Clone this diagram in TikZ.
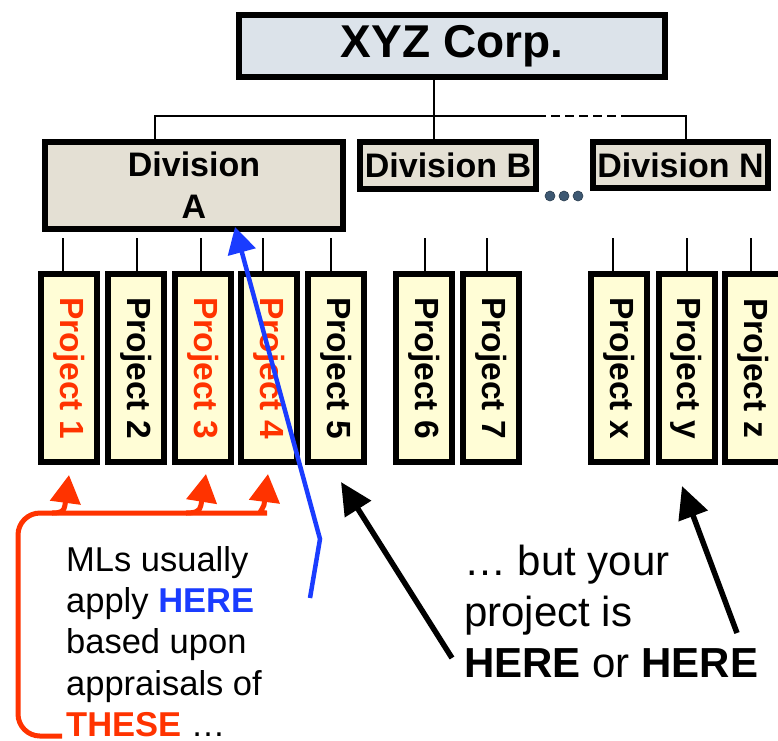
\documentclass[tikz,border=0pt]{standalone}
\usepackage{fontspec}
\setmainfont{Liberation Sans}
\usetikzlibrary{arrows.meta}
\definecolor{xyzfill}{HTML}{DCE3EA}
\definecolor{divfill}{HTML}{E4E0D4}
\definecolor{projfill}{HTML}{FFFDD6}
\definecolor{myred}{HTML}{FF3300}
\definecolor{myblue}{HTML}{1A3CFF}
\definecolor{dotcol}{HTML}{3D5872}
\begin{document}
\begin{tikzpicture}[x=1pt,y=-1pt,
  box/.style={draw=black, line width=6pt, inner sep=0pt, align=center,
    font=\bfseries\fontsize{34}{42}\selectfont},
  xyzbox/.style={box, fill=xyzfill, font=\bfseries\fontsize{46}{50}\selectfont},
  divbox/.style={box, fill=divfill},
  projbox/.style={box, fill=projfill, minimum width=56pt, minimum height=188pt,
    font=\bfseries\fontsize{33.5}{40}\selectfont},
  conn/.style={line width=1.5pt},
  dotnode/.style={circle, fill=dotcol, draw=dotcol!70!black, line width=0.6pt,
    minimum size=10pt, inner sep=0pt},
  redarr/.style={draw=myred, line width=5pt, -{Triangle[length=28pt,width=30pt]}},
  bluarr/.style={draw=myblue, line width=4.5pt, -{Triangle[length=26pt,width=28pt]}},
  blkarr/.style={draw=black, line width=5.5pt, -{Triangle[length=32pt,width=30pt]}},
  txt/.style={anchor=north west, inner sep=0pt, align=left}
]
\useasboundingbox (0,0) rectangle (778,740);

% top and divisions
\node[xyzbox, minimum width=426pt, minimum height=62pt] (xyz) at (452,46) {XYZ Corp.};
\node[divbox, minimum width=298pt, minimum height=87pt] (divA) at (194,185.5) {Division\\A};
\node[divbox, minimum width=176pt, minimum height=47pt] (divB) at (448,165.5) {Division B};
\node[divbox, minimum width=175pt, minimum height=46pt] (divN) at (680.5,165) {Division N};

\coordinate (hub) at (434,116);
\coordinate (hl) at (155,116);
\coordinate (ds) at (537,116);
\coordinate (de) at (630,116);
\coordinate (hr) at (686,116);
\draw[conn] (hub |- xyz.south) -- (hub |- divB.north);
\draw[conn] (hl |- divA.north) -- (hl) -- (ds);
\draw[conn, dash pattern=on 9pt off 5pt] (ds) -- (de);
\draw[conn] (de) -- (hr) -- (hr |- divN.north);

\node[dotnode] (dot1) at (550,196) {};
\node[dotnode] (dot2) at (564,196) {};
\node[dotnode] (dot3) at (578,196) {};

% projects
\node[projbox, text=myred] (p1) at (69,368) {\rotatebox{-90}{Project 1}};
\node[projbox] (p2) at (136,368) {\rotatebox{-90}{Project 2}};
\node[projbox, text=myred] (p3) at (203,368) {\rotatebox{-90}{Project 3}};
\node[projbox, text=myred] (p4) at (269,368) {\rotatebox{-90}{Project 4}};
\node[projbox] (p5) at (336,368) {\rotatebox{-90}{Project 5}};
\node[projbox] (p6) at (424,368) {\rotatebox{-90}{Project 6}};
\node[projbox] (p7) at (491,368) {\rotatebox{-90}{Project 7}};
\node[projbox] (px) at (619,368) {\rotatebox{-90}{Project x}};
\node[projbox] (py) at (686.5,368) {\rotatebox{-90}{Project y}};
\node[projbox] (pz) at (753,368) {\rotatebox{-90}{Project z}};

\coordinate (t1) at (63,238);
\coordinate (t2) at (137,238);
\coordinate (t3) at (201,238);
\coordinate (t4) at (263,238);
\coordinate (t5) at (331,238);
\coordinate (t6) at (425,238);
\coordinate (t7) at (487,238);
\coordinate (tx) at (613,238);
\coordinate (ty) at (687,238);
\coordinate (tz) at (751,238);
\draw[conn] (t1) -- (t1 |- p1.north);
\draw[conn] (t2) -- (t2 |- p2.north);
\draw[conn] (t3) -- (t3 |- p3.north);
\draw[conn] (t4) -- (t4 |- p4.north);
\draw[conn] (t5) -- (t5 |- p5.north);
\draw[conn] (t6) -- (t6 |- p6.north);
\draw[conn] (t7) -- (t7 |- p7.north);
\draw[conn] (tx) -- (tx |- px.north);
\draw[conn] (ty) -- (ty |- py.north);
\draw[conn] (tz) -- (tz |- pz.north);

% texts
\node[txt, font=\fontsize{34.5}{41.3}\selectfont] (ml) at (66,546)
  {MLs usually\\apply \textcolor{myblue}{\bfseries HERE}\\based upon\\appraisals of\\\textcolor{myred}{\bfseries THESE} …};
\node[txt, font=\fontsize{42}{51}\selectfont] (yp) at (464,545)
  {… but your\\project is\\\textbf{HERE} or \textbf{HERE}};

% red arrows
\draw[redarr] (62,736) [rounded corners=22pt] -| (18,513) -- (245,513) [sharp corners]
  .. controls (256,513) and (262,511) .. (264,505) -- (268,474);
\draw[redarr] (52,513) .. controls (62,513) and (64,511) .. (65,505) -- (69,475);
\draw[redarr] (186,513) .. controls (196,513) and (200,511) .. (201,505) -- (206,474);

% blue arrow
\coordinate (b0) at (310,598);
\coordinate (b1) at (320,539);
\coordinate (btip) at (235,227);
\draw[bluarr] (b0) -- (b1) -- (btip);

% black arrows
\coordinate (k1s) at (452,658);
\coordinate (k1e) at (341,482);
\coordinate (k2s) at (737,633);
\coordinate (k2e) at (682,486);
\draw[blkarr] (k1s) -- (k1e);
\draw[blkarr] (k2s) -- (k2e);
\end{tikzpicture}
\end{document}
